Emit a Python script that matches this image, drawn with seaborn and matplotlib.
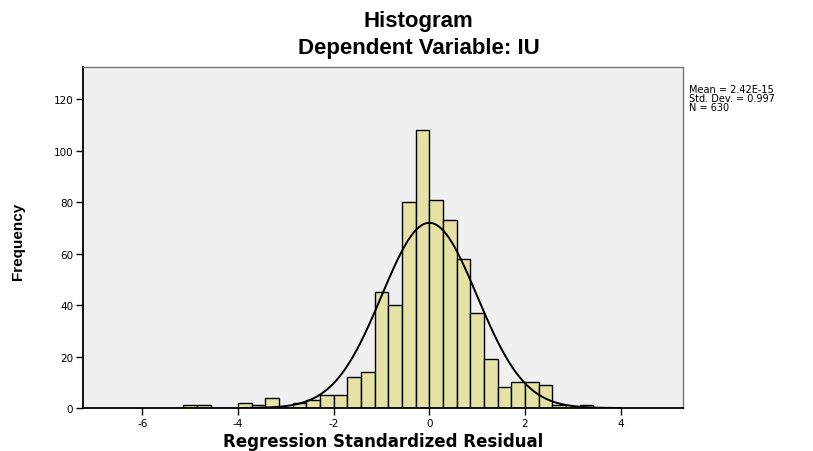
import numpy as np
import pandas as pd
import matplotlib
matplotlib.use("Agg")
import matplotlib.pyplot as plt
import seaborn as sns

# histogram of regression standardized residuals (SPSS style)
bin_width = 2 / 7
bin_start = -18  # index of first bin, edges at k * bin_width
counts = [1, 1, 0, 0, 2, 1, 4, 0, 2, 3, 5, 5, 12, 14, 45, 40, 80, 108,
          81, 73, 58, 37, 19, 8, 10, 10, 9, 1, 0, 1]
x_ticks = [-6, -4, -2, 0, 2, 4]
y_ticks = [0, 20, 40, 60, 80, 100, 120]
mean_val = 2.42e-15
std_val = 0.997
n_val = 630
stats_text = "Mean = 2.42E-15\nStd. Dev. = 0.997\nN = 630"

edges = (np.arange(len(counts) + 1) + bin_start) * bin_width
centers = (edges[:-1] + edges[1:]) / 2
df = pd.DataFrame({"resid": centers, "n": counts})

sns.set_style("white")
plt.rcParams["font.family"] = ["Liberation Sans", "DejaVu Sans"]
plt.rcParams["text.color"] = "black"

narrow = ["Liberation Sans Narrow", "Liberation Sans"]
wide = ["DejaVu Sans"]

fig = plt.figure(figsize=(8.13, 4.52), dpi=100)
ax = fig.add_axes([0.102, 0.095, 0.738, 0.755])
ax.set_facecolor("#f0f0f0")

sns.histplot(data=df, x="resid", weights="n", bins=edges.tolist(), ax=ax,
             color="#e6e2a6", edgecolor="black", linewidth=1.0, alpha=1.0)

# normal curve scaled to counts
xs = np.linspace(-4, 4, 300)
ys = n_val * bin_width * np.exp(-0.5 * ((xs - mean_val) / std_val) ** 2) / (std_val * np.sqrt(2 * np.pi))
sns.lineplot(x=xs, y=ys, ax=ax, color="black", linewidth=1.4)

ax.set_xlim(-7.24, 5.3)
ax.set_ylim(0, 132.7)
ax.set_xticks(x_ticks)
ax.set_xticklabels([str(t) for t in x_ticks], fontsize=7.5, family=wide, color="black")
ax.set_yticks(y_ticks)
ax.set_yticklabels([str(t) for t in y_ticks], fontsize=7.5, family=wide, color="black")
ax.tick_params(axis="both", bottom=True, left=True, direction="out", length=5,
               width=1.0, color="black", pad=2)

for side in ["left", "bottom"]:
    ax.spines[side].set_color("black")
    ax.spines[side].set_linewidth(1.3)
for side in ["top", "right"]:
    ax.spines[side].set_color("#777777")
    ax.spines[side].set_linewidth(1.0)

ax.set_xlabel("Regression Standardized Residual", fontsize=12, fontweight="bold",
              family=wide, color="black", labelpad=3)
ax.set_ylabel("")
fig.text(0.022, 0.467, "Frequency", rotation=90, fontsize=11, fontweight="bold",
         family=narrow, ha="center", va="center")

fig.text(0.515, 0.953, "Histogram", fontsize=16, fontweight="bold", family=narrow,
         ha="center", va="center")
fig.text(0.515, 0.893, "Dependent Variable: IU", fontsize=16, fontweight="bold",
         family=narrow, ha="center", va="center")

fig.text(0.848, 0.812, stats_text, fontsize=7, family=wide, ha="left", va="top",
         linespacing=0.85)

fig.savefig("out.png", dpi=100)
